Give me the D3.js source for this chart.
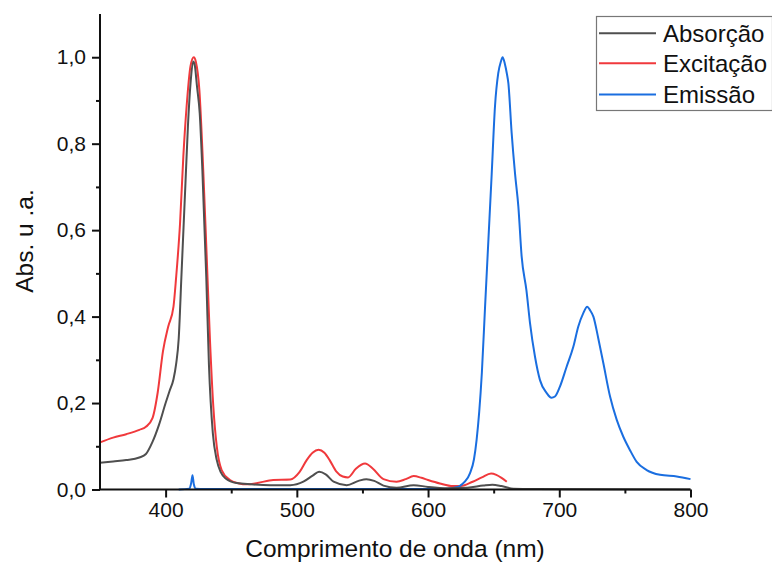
<!DOCTYPE html>
<html><head><meta charset="utf-8">
<script src="https://cdn.jsdelivr.net/npm/d3@7"></script>
<style>body{margin:0;background:#fff}svg{display:block}text{font-family:"Liberation Sans",Arial,sans-serif;fill:#111}</style>
</head><body><svg id="c" width="772" height="562"></svg>
<script>
const seriesNames = ["Absorção", "Excitação", "Emissão"];
const seriesColors = ["#4f4f4f", "#f0393c", "#1a6ee0"];
const xTicks = [400, 500, 600, 700, 800];
const yTicks = [0, 0.2, 0.4, 0.6, 0.8, 1.0];

const absWl  = [350,360,370,380,385,390,395,400,403,406,408,410,412,415,417,419,421,422,424,426,428,431,433,436,439,442,446,454,465,480,495,505,512,517,522,528,538,547,553,559,566,576,589,600,615,630,642,649,656,665,680,800];
const absVal = [0.062,0.065,0.068,0.074,0.082,0.11,0.15,0.2,0.228,0.255,0.29,0.35,0.49,0.70,0.84,0.94,0.99,0.985,0.93,0.87,0.74,0.49,0.29,0.13,0.068,0.04,0.025,0.015,0.012,0.01,0.01,0.018,0.032,0.041,0.035,0.018,0.01,0.02,0.024,0.02,0.009,0.004,0.01,0.006,0.003,0.004,0.009,0.011,0.008,0.002,0.001,0.0];

const excWl  = [350,360,370,380,385,390,394,398,402,406,408,411,413.5,416,419,421.5,423,425.7,428.8,431.3,433.8,436.4,439,442.7,449,456,462,470,482,495,502,507.5,512,516.5,521,525,530,535,539,545,552,558,566,576,583,589,595,600,609,619,625,634,641,648,652,656,660];
const excVal = [0.109,0.12,0.128,0.138,0.145,0.165,0.225,0.32,0.377,0.423,0.49,0.616,0.77,0.886,0.98,1.0,0.99,0.925,0.73,0.54,0.346,0.19,0.099,0.045,0.022,0.014,0.012,0.015,0.022,0.023,0.04,0.068,0.085,0.092,0.085,0.068,0.042,0.03,0.028,0.048,0.06,0.048,0.024,0.018,0.024,0.031,0.027,0.022,0.014,0.008,0.008,0.018,0.028,0.037,0.034,0.027,0.018];

const emiWl  = [410,418,419.5,420.5,421.5,423,430,600,615,620,624,628,632,635,637,639,641,643.4,646,648.5,651,653.5,655.5,656.8,658.5,660,661.2,663.7,666.3,668.8,671.3,675,677.7,681.5,685.3,690.4,694,696.7,700.5,705.6,710.7,714.5,718.3,721.3,723.4,726,729.7,733.6,738.7,743.8,748.8,753.9,759,766.6,776.8,789.5,800];
const emiVal = [0,0.002,0.015,0.033,0.012,0.002,0.001,0.001,0.002,0.004,0.008,0.018,0.038,0.07,0.115,0.18,0.27,0.42,0.578,0.73,0.886,0.963,0.99,1.0,0.985,0.963,0.94,0.825,0.73,0.655,0.54,0.46,0.385,0.307,0.253,0.223,0.212,0.215,0.238,0.284,0.33,0.377,0.408,0.423,0.415,0.40,0.35,0.292,0.215,0.161,0.122,0.091,0.064,0.045,0.034,0.03,0.024];

const svg = d3.select("#c");
const x = d3.scaleLinear().domain([350, 800]).range([100, 690.5]);
const y = d3.scaleLinear().domain([0, 1.1]).range([489.5, 14]);

const series = [
  {wl: absWl, v: absVal},
  {wl: excWl, v: excVal},
  {wl: emiWl, v: emiVal}
];
const line = d3.line().x(d => x(d[0])).y(d => y(d[1])).curve(d3.curveMonotoneX);
const order = [1, 2, 0];
order.forEach(i => {
  const s = series[i];
  svg.append("path").datum(s.wl.map((w, k) => [w, s.v[k]]))
    .attr("d", line).attr("fill", "none")
    .attr("stroke", seriesColors[i]).attr("stroke-width", 2)
    .attr("stroke-linejoin", "round");
});

const fmt = d => d3.format(".1f")(d).replace(".", ",");
const xAxis = svg.append("g").attr("transform", "translate(0,489.5)")
  .call(d3.axisBottom(x).tickValues(xTicks).tickSize(8).tickPadding(5).tickFormat(d3.format("d")));
svg.append("g").attr("transform", "translate(0,489.5)")
  .call(d3.axisBottom(x).tickValues([450,550,650,750]).tickSize(4).tickFormat(""))
  .select(".domain").remove();
const yAxis = svg.append("g").attr("transform", "translate(100,0)")
  .call(d3.axisLeft(y).tickValues(yTicks).tickSize(8).tickPadding(6).tickFormat(fmt));
svg.append("g").attr("transform", "translate(100,0)")
  .call(d3.axisLeft(y).tickValues([0.1,0.3,0.5,0.7,0.9]).tickSize(4).tickFormat(""))
  .select(".domain").remove();
svg.selectAll(".domain").attr("stroke", "#111").attr("stroke-width", 2);
svg.selectAll(".tick line").attr("stroke", "#111").attr("stroke-width", 2);
svg.selectAll(".tick text").attr("font-size", 21).attr("font-family", "Liberation Sans, Arial, sans-serif").attr("fill", "#111");
xAxis.selectAll(".domain").attr("d", `M${x(350)},0H${x(800)}`);
yAxis.selectAll(".domain").attr("d", `M0,${y(0)}V${y(1.1)}`);

svg.append("text").attr("x", 395).attr("y", 557).attr("text-anchor", "middle")
  .attr("font-size", 24.5).text("Comprimento de onda (nm)");
svg.append("text").attr("transform", "translate(33,241) rotate(-90)").attr("text-anchor", "middle")
  .attr("font-size", 24.5).text("Abs. u .a.");

const lg = svg.append("g");
lg.append("rect").attr("x", 596.5).attr("y", 16.5).attr("width", 176).attr("height", 94)
  .attr("fill", "#fff").attr("stroke", "#777").attr("stroke-width", 1.2);
const rows = [33.3, 63.3, 94.5];
seriesNames.forEach((n, i) => {
  lg.append("line").attr("x1", 599).attr("x2", 656).attr("y1", rows[i]).attr("y2", rows[i])
    .attr("stroke", seriesColors[i]).attr("stroke-width", 2);
  lg.append("text").attr("x", 663).attr("y", rows[i]).attr("dy", "0.35em")
    .attr("font-size", 24).text(n);
});
</script></body></html>
